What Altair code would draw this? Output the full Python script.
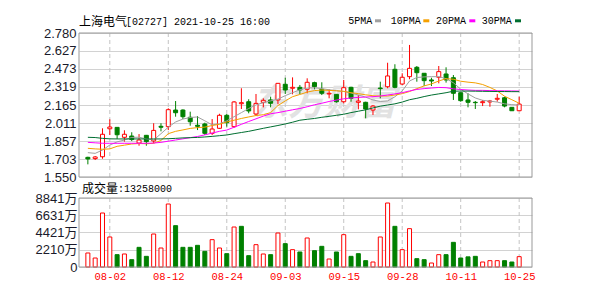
import altair as alt
import pandas as pd

# ---------------- data ----------------
idx = list(range(60))
opens = [1.718, 1.707, 1.723, 1.962, 1.974, 1.889, 1.900, 1.840, 1.906, 1.858,
         1.983, 1.980, 2.122, 2.122, 2.060, 1.992, 2.003, 1.923, 1.966, 2.077,
         1.980, 2.176, 2.193, 2.088, 2.188, 2.208, 2.208, 2.342, 2.308, 2.316,
         2.299, 2.356, 2.299, 2.259, 2.256, 2.193, 2.316, 2.188, 2.188, 2.122,
         2.310, 2.321, 2.470, 2.344, 2.407, 2.487, 2.436, 2.379, 2.402, 2.430,
         2.398, 2.270, 2.208, 2.188, 2.185, 2.191, 2.214, 2.227, 2.145, 2.116]
highs = [1.723, 1.729, 1.966, 2.043, 1.974, 1.949, 1.932, 1.917, 1.909, 2.009,
         2.009, 2.137, 2.199, 2.128, 2.108, 2.071, 2.014, 2.045, 2.090, 2.088,
         2.199, 2.308, 2.214, 2.259, 2.222, 2.236, 2.350, 2.398, 2.401, 2.336,
         2.393, 2.364, 2.359, 2.299, 2.256, 2.379, 2.321, 2.250, 2.193, 2.165,
         2.364, 2.526, 2.513, 2.436, 2.678, 2.498, 2.436, 2.398, 2.498, 2.487,
         2.421, 2.270, 2.265, 2.199, 2.208, 2.208, 2.259, 2.236, 2.145, 2.236]
lows = [1.658, 1.695, 1.706, 1.909, 1.875, 1.852, 1.857, 1.817, 1.817, 1.838,
        1.940, 1.951, 2.065, 2.045, 1.988, 1.951, 1.909, 1.909, 1.960, 1.980,
        1.971, 2.131, 2.094, 2.071, 2.145, 2.145, 2.171, 2.259, 2.256, 2.259,
        2.265, 2.299, 2.250, 2.222, 2.185, 2.179, 2.193, 2.128, 2.051, 2.080,
        2.222, 2.308, 2.308, 2.336, 2.385, 2.364, 2.327, 2.327, 2.350, 2.356,
        2.208, 2.193, 2.145, 2.131, 2.156, 2.150, 2.193, 2.145, 2.116, 2.116]
closes = [1.704, 1.721, 1.915, 1.977, 1.911, 1.915, 1.870, 1.866, 1.852, 1.948,
          1.975, 2.125, 2.099, 2.065, 2.022, 1.983, 1.923, 1.960, 2.077, 2.014,
          2.191, 2.185, 2.114, 2.179, 2.205, 2.180, 2.350, 2.293, 2.316, 2.293,
          2.359, 2.322, 2.265, 2.265, 2.193, 2.313, 2.222, 2.199, 2.131, 2.156,
          2.305, 2.413, 2.316, 2.402, 2.478, 2.441, 2.373, 2.370, 2.450, 2.379,
          2.265, 2.202, 2.188, 2.185, 2.193, 2.199, 2.222, 2.156, 2.116, 2.173]
# volume in 万 (10k shares)
volumes = [1794, 1153, 6919, 3844, 1580, 1666, 940, 2520, 1367, 4228,
           2434, 8072, 5296, 2520, 2520, 2776, 2007, 3502, 2434, 1708,
           5125, 5211, 1452, 2862, 1666, 1580, 4356, 2990, 2221, 1922,
           3716, 2093, 2648, 1025, 1922, 4143, 1367, 1708, 811, 640,
           3844, 8200, 5211, 2221, 4912, 1068, 940, 512, 1580, 1580,
           3160, 1153, 1300, 1367, 640, 811, 811, 811, 640, 1326]
vol_up = [1, 1, 1, 1, 0, 1, 0, 0, 0, 1,
          1, 1, 0, 0, 0, 0, 0, 1, 1, 0,
          1, 0, 0, 1, 1, 0, 1, 0, 1, 0,
          1, 0, 0, 1, 0, 1, 0, 0, 0, 1,
          1, 1, 0, 1, 1, 0, 0, 1, 1, 0,
          0, 0, 0, 0, 1, 1, 1, 0, 0, 1]
ma5 = [1.758, 1.752, 1.780, 1.823, 1.850, 1.866, 1.888, 1.890, 1.875, 1.866,
       1.920, 1.975, 2.020, 2.045, 2.058, 2.063, 2.030, 1.995, 2.005, 2.030,
       2.065, 2.100, 2.135, 2.165, 2.185, 2.200, 2.215, 2.245, 2.270, 2.295,
       2.310, 2.312, 2.305, 2.295, 2.288, 2.280, 2.268, 2.250, 2.232, 2.208,
       2.195, 2.200, 2.235, 2.285, 2.370, 2.400, 2.405, 2.407, 2.407, 2.390,
       2.355, 2.300, 2.260, 2.225, 2.205, 2.198, 2.190, 2.175, 2.168, 2.165]
ma10 = [1.795, 1.790, 1.787, 1.790, 1.812, 1.822, 1.832, 1.836, 1.834, 1.838,
        1.862, 1.920, 1.940, 1.952, 1.965, 1.972, 1.976, 1.990, 2.000, 2.020,
        2.035, 2.050, 2.063, 2.075, 2.082, 2.100, 2.160, 2.200, 2.236, 2.255,
        2.275, 2.288, 2.293, 2.290, 2.286, 2.282, 2.270, 2.262, 2.252, 2.244,
        2.242, 2.242, 2.250, 2.262, 2.280, 2.305, 2.328, 2.345, 2.370, 2.390,
        2.385, 2.368, 2.360, 2.354, 2.340, 2.315, 2.285, 2.240, 2.210, 2.180]
ma20 = [1.846, 1.842, 1.838, 1.838, 1.838, 1.838, 1.838, 1.838, 1.838, 1.840,
        1.846, 1.856, 1.866, 1.876, 1.886, 1.896, 1.910, 1.925, 1.940, 1.951,
        1.975, 2.000, 2.024, 2.047, 2.070, 2.090, 2.100, 2.112, 2.124, 2.135,
        2.150, 2.167, 2.180, 2.195, 2.207, 2.218, 2.225, 2.230, 2.233, 2.236,
        2.242, 2.250, 2.260, 2.270, 2.285, 2.298, 2.305, 2.310, 2.315, 2.313,
        2.303, 2.297, 2.293, 2.290, 2.290, 2.288, 2.287, 2.286, 2.285, 2.284]
ma30 = [1.889, 1.887, 1.880, 1.876, 1.875, 1.875, 1.875, 1.875, 1.875, 1.875,
        1.875, 1.877, 1.880, 1.884, 1.886, 1.888, 1.892, 1.897, 1.903, 1.909,
        1.920, 1.930, 1.940, 1.953, 1.966, 1.978, 1.990, 2.003, 2.018, 2.035,
        2.043, 2.050, 2.060, 2.068, 2.077, 2.086, 2.100, 2.112, 2.124, 2.140,
        2.155, 2.165, 2.175, 2.190, 2.210, 2.222, 2.237, 2.250, 2.260, 2.270,
        2.283, 2.284, 2.284, 2.283, 2.282, 2.281, 2.280, 2.280, 2.279, 2.279]

tick_idx = [3, 11, 19, 27, 35, 43, 51, 59]
tick_labels = ['08-02', '08-12', '08-24', '09-03', '09-15', '09-28', '10-11', '10-25']
price_ticks = [1.550, 1.703, 1.857, 2.011, 2.165, 2.319, 2.473, 2.627, 2.780]
vol_ticks = [0, 2210, 4421, 6631, 8841]
ma_names = ['5PMA', '10PMA', '20PMA', '30PMA']
ma_colors = ['#a0a0a0', '#f5a000', '#ff00ff', '#006e30']

title_name = '上海电气'
title_info = '[02727] 2021-10-25 16:00'
vol_name = '成交量'
vol_total = ':13258000'
watermark = '东方财富'

# ---------------- layout ----------------
W, H = 453, 234
PH = 144          # price panel bottom (px)
VT, VB = 165, 234  # volume panel top/bottom (px)
RED = '#ff0000'
GREEN = '#008000'
FRAME = '#999999'
GRID = '#d2d2d2'
CJK = 'Noto Sans CJK SC'
MONO = 'Liberation Mono'

df = pd.DataFrame({'i': idx, 'o': opens, 'h': highs, 'l': lows, 'c': closes,
                   'v': volumes, 'vu': vol_up})
ma_df = pd.DataFrame({'i': idx * 4,
                      'ma': [n for n in ma_names for _ in idx],
                      'val': ma5 + ma10 + ma20 + ma30})
ticks_df = pd.DataFrame({'i': tick_idx})
one = pd.DataFrame({'k': [0]})

lab_expr = ("[" + ",".join("'%s'" % t for t in tick_labels) + "][indexof(["
            + ",".join(str(t) for t in tick_idx) + "], datum.value)]")
xs = alt.Scale(domain=[-0.53, 60.07], nice=False, zero=False)
xaxis = alt.Axis(values=tick_idx, labelExpr=lab_expr, grid=False, domain=False,
                 ticks=False, tickSize=0, labelColor=RED, labelFont=MONO,
                 labelFontSize=10.5, labelPadding=4, title=None,
                 labelFlush=False, labelOverlap=False)
X = alt.X('i:Q', scale=xs, axis=xaxis)

ps = alt.Scale(domain=[1.55, 2.78], range=[PH, 0], nice=False, zero=False)
vs = alt.Scale(domain=[0, 8841], range=[VB, VT], nice=False, zero=True)

paxis = alt.Axis(values=price_ticks, format='.3f', grid=True, gridColor=GRID,
                 gridWidth=1, domain=False, ticks=False, tickSize=0,
                 labelPadding=3, labelFont='Liberation Sans', labelFontSize=13,
                 labelColor='#1a1a2a', title=None, labelFlush=False,
                 labelOverlap=False, orient='left')
vaxis = alt.Axis(values=vol_ticks, format='d',
                 labelExpr="datum.value == 0 ? '0' : datum.label + '万'",
                 grid=True, gridColor=GRID, gridWidth=1, domain=False,
                 ticks=False, tickSize=0, labelPadding=2,
                 labelFont='Liberation Sans, ' + CJK, labelFontSize=13,
                 labelColor='#1a1a2a', title=None, labelFlush=False,
                 labelOverlap=False, orient='left')

up_cond = 'datum.c >= datum.o'

# vertical dashed grid lines
vgrid_p = alt.Chart(ticks_df).mark_rule(color='#c4c4c4', strokeDash=[4, 3], strokeWidth=1).encode(
    x=X, y=alt.value(0), y2=alt.value(PH))
vgrid_v = alt.Chart(ticks_df).mark_rule(color='#c4c4c4', strokeDash=[4, 3], strokeWidth=1).encode(
    x=X, y=alt.value(VT), y2=alt.value(VB))

wm = alt.Chart(one).mark_text(text=watermark, font=CJK, fontSize=36, fontWeight='bold',
                              fontStyle='italic', color='#e2e2e2', align='center',
                              baseline='middle').encode(x=alt.value(245), y=alt.value(71))

wicks = alt.Chart(df).mark_rule(strokeWidth=1).encode(
    x=X,
    y=alt.Y('l:Q', scale=ps, axis=paxis),
    y2='h:Q',
    color=alt.condition(up_cond, alt.value(RED), alt.value(GREEN)))

bodies = alt.Chart(df).mark_bar(size=4, strokeWidth=1).encode(
    x=X,
    y=alt.Y('o:Q', scale=ps, axis=None),
    y2='c:Q',
    fill=alt.condition(up_cond, alt.value('white'), alt.value(GREEN)),
    stroke=alt.condition(up_cond, alt.value(RED), alt.value(GREEN)))

lines = alt.Chart(ma_df).mark_line(strokeWidth=1).encode(
    x=X,
    y=alt.Y('val:Q', scale=ps, axis=None),
    color=alt.Color('ma:N', scale=alt.Scale(domain=ma_names, range=ma_colors), legend=None),
    detail='ma:N')

vbars = alt.Chart(df).mark_bar(size=4, strokeWidth=1).encode(
    x=X,
    y=alt.Y('v:Q', scale=vs, axis=vaxis),
    fill=alt.condition('datum.vu == 1', alt.value('white'), alt.value(GREEN)),
    stroke=alt.condition('datum.vu == 1', alt.value(RED), alt.value(GREEN)))

frame_p = alt.Chart(one).mark_rect(fillOpacity=0, stroke=FRAME, strokeWidth=1).encode(
    x=alt.value(0), x2=alt.value(W), y=alt.value(0), y2=alt.value(PH))
frame_v = alt.Chart(one).mark_rect(fillOpacity=0, stroke=FRAME, strokeWidth=1).encode(
    x=alt.value(0), x2=alt.value(W), y=alt.value(VT), y2=alt.value(VB))

texts = [
    alt.Chart(one).mark_text(text=title_name, font=CJK, fontSize=12, color='#000',
                             align='left', baseline='middle').encode(x=alt.value(0), y=alt.value(-11.5)),
    alt.Chart(one).mark_text(text=title_info, font=MONO, fontSize=10, color='#000',
                             align='left', baseline='middle').encode(x=alt.value(47), y=alt.value(-11.5)),
    alt.Chart(one).mark_text(text=vol_name, font=CJK, fontSize=12, color='#000',
                             align='left', baseline='middle').encode(x=alt.value(3), y=alt.value(156)),
    alt.Chart(one).mark_text(text=vol_total, font=MONO, fontSize=10, color='#000',
                             align='left', baseline='middle').encode(x=alt.value(39), y=alt.value(156)),
]
leg_x = [269.3, 311.7, 357, 402.7]
sw_x = [296, 344.3, 390.3, 436]
for name, col, lx, sx in zip(ma_names, ma_colors, leg_x, sw_x):
    texts.append(alt.Chart(one).mark_text(text=name, font=MONO, fontSize=10, color='#000',
                                          align='left', baseline='middle').encode(
        x=alt.value(lx), y=alt.value(-12.5)))
    texts.append(alt.Chart(one).mark_rect(color=col).encode(
        x=alt.value(sx), x2=alt.value(sx + 6), y=alt.value(-13.7), y2=alt.value(-10.7)))

chart = alt.layer(
    vgrid_p, vgrid_v, wm, wicks, bodies, lines, vbars, frame_p, frame_v, *texts
).resolve_scale(y='independent').properties(
    width=W, height=H,
    autosize=alt.AutoSizeParams(type='none'),
    padding={'left': 79, 'top': 33, 'right': 60, 'bottom': 28},
    background='white'
).configure_view(stroke=None)

chart.save('out.html', embed_options={'renderer': 'svg', 'actions': False})
